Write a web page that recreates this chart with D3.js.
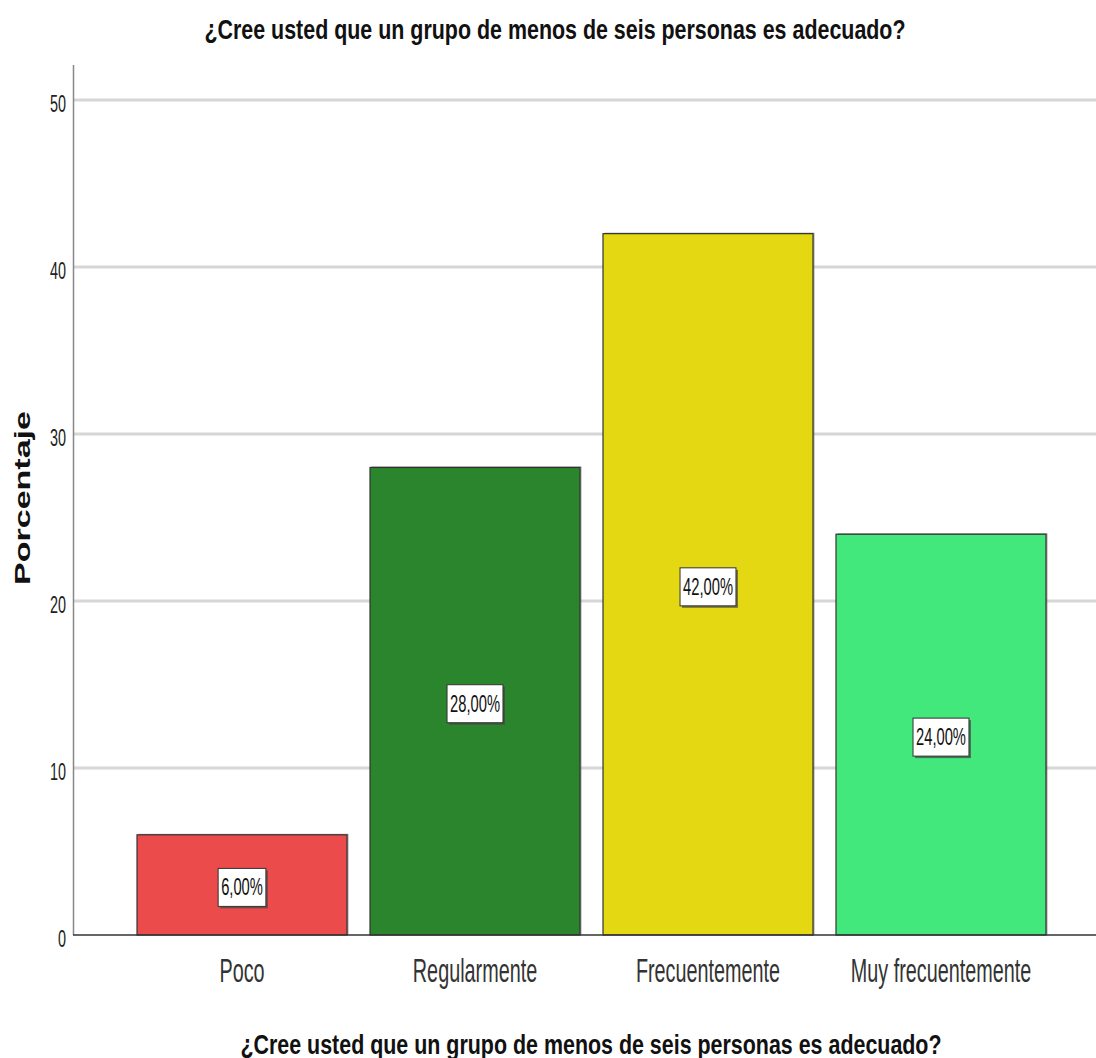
<!DOCTYPE html>
<html><head><meta charset="utf-8">
<script src="https://cdn.jsdelivr.net/npm/d3@7"></script>
<style>
body{margin:0;background:#fff;}
svg{display:block;}
text{font-family:"Liberation Sans Narrow","Liberation Sans",Arial,sans-serif;}
</style></head>
<body>
<svg id="chart" width="1096" height="1058"></svg>
<script>
const categories = ["Poco", "Regularmente", "Frecuentemente", "Muy frecuentemente"];
const values = [6, 28, 42, 24];
const labels = ["6,00%", "28,00%", "42,00%", "24,00%"];
const colors = ["#ec4b4c", "#2a852c", "#e3d811", "#42e87c"];
const yTicks = [0, 10, 20, 30, 40, 50];
const title = "¿Cree usted que un grupo de menos de seis personas es adecuado?";
const yTitle = "Porcentaje";

const svg = d3.select("#chart");
const x = d3.scaleBand().domain(categories).range([125.5, 1057.5]).paddingInner(0.0987).paddingOuter(0.0494);
const y = d3.scaleLinear().domain([0, 52.1]).range([935, 65]);

// horizontal compression to imitate a narrow face
function squeeze(sel, f) {
  sel.each(function () {
    const len = this.getComputedTextLength();
    d3.select(this).attr("textLength", len * f).attr("lengthAdjust", "spacingAndGlyphs");
  });
}

// grid
svg.append("g").selectAll("line").data(yTicks.filter(d => d > 0)).join("line")
  .attr("x1", 74).attr("x2", 1096).attr("y1", d => y(d)).attr("y2", d => y(d))
  .attr("stroke", "#d6d6d6").attr("stroke-width", 3);

// title
svg.append("text").attr("x", 555).attr("y", 39)
  .attr("text-anchor", "middle").attr("font-size", 28).attr("font-weight", "bold").attr("fill", "#111")
  .text(title).call(squeeze, 0.765);

// y axis
svg.append("line").attr("x1", 73.5).attr("x2", 73.5).attr("y1", 65).attr("y2", 935)
  .attr("stroke", "#888").attr("stroke-width", 1.5);
svg.append("g").selectAll("text").data(yTicks).join("text")
  .attr("x", 66).attr("y", d => y(d) + 12).attr("text-anchor", "end")
  .attr("font-size", 24).attr("fill", "#222").text(d => d).call(squeeze, 0.6);

svg.append("text").attr("transform", "translate(30,498) rotate(-90)")
  .attr("text-anchor", "middle")
  .attr("font-size", 22).attr("font-weight", "bold").attr("fill", "#111")
  .attr("textLength", 174).attr("lengthAdjust", "spacingAndGlyphs")
  .text(yTitle);

// bars shadow
const g = svg.append("g");
g.selectAll("rect.sh").data(values).join("rect").attr("class", "sh")
  .attr("x", (d, i) => x(categories[i]) + 1.5).attr("y", d => y(d) - 1)
  .attr("width", x.bandwidth()).attr("height", d => y(0) - y(d) + 1)
  .attr("fill", "#666").attr("opacity", 0.6);
g.selectAll("rect.bar").data(values).join("rect").attr("class", "bar")
  .attr("x", (d, i) => x(categories[i])).attr("y", d => y(d))
  .attr("width", x.bandwidth()).attr("height", d => y(0) - y(d))
  .attr("fill", (d, i) => colors[i]).attr("stroke", "#333").attr("stroke-width", 1.2);

// x axis line
svg.append("line").attr("x1", 73).attr("x2", 1096).attr("y1", 935).attr("y2", 935)
  .attr("stroke", "#333").attr("stroke-width", 1.5);

// value labels
const lg = svg.append("g").selectAll("g").data(values).join("g")
  .attr("transform", (d, i) => `translate(${x(categories[i]) + x.bandwidth() / 2},${y(d / 2) + 2.5})`);
lg.append("text").attr("text-anchor", "middle").attr("y", 8)
  .attr("font-size", 23).attr("fill", "#111").text((d, i) => labels[i]).call(squeeze, 0.64);
lg.each(function () {
  const gg = d3.select(this);
  const w = +gg.select("text").attr("textLength") + 6, h = 38;
  gg.insert("rect", "text").attr("x", -w / 2 + 2).attr("y", -h / 2 + 2).attr("width", w).attr("height", h).attr("fill", "#444").attr("opacity", 0.7);
  gg.insert("rect", "text").attr("x", -w / 2).attr("y", -h / 2).attr("width", w).attr("height", h)
    .attr("fill", "#fff").attr("stroke", "#333").attr("stroke-width", 1);
});

// category labels
svg.append("g").selectAll("text").data(categories).join("text")
  .attr("x", d => x(d) + x.bandwidth() / 2).attr("y", 982).attr("text-anchor", "middle")
  .attr("font-size", 33).attr("fill", "#333").text(d => d).call(squeeze, 0.6);

// x title
svg.append("text").attr("x", 591).attr("y", 1054)
  .attr("text-anchor", "middle").attr("font-size", 28).attr("font-weight", "bold").attr("fill", "#111")
  .text(title).call(squeeze, 0.765);
</script>
</body></html>
